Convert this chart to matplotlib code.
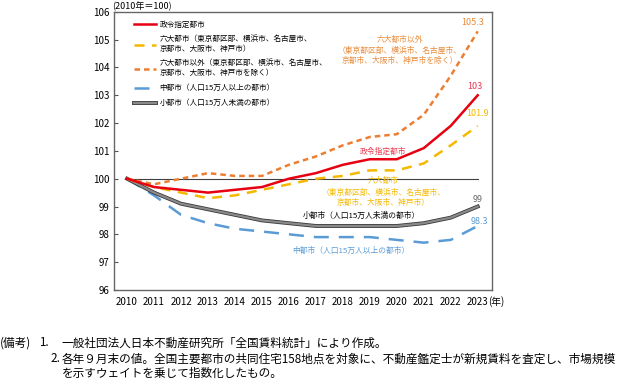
import matplotlib
matplotlib.use("Agg")
import matplotlib.pyplot as plt
import matplotlib.patheffects as pe

plt.rcParams['font.family'] = ['Noto Sans CJK JP', 'DejaVu Sans']

years = list(range(2010, 2024))
seirei = [100, 99.7, 99.6, 99.5, 99.6, 99.7, 100.0, 100.2, 100.5, 100.7, 100.7, 101.1, 101.9, 103.0]
rokudai = [100, 99.7, 99.5, 99.3, 99.4, 99.6, 99.8, 100.0, 100.1, 100.3, 100.3, 100.55, 101.2, 101.9]
rokudai_igai = [100, 99.8, 100.0, 100.2, 100.1, 100.1, 100.5, 100.8, 101.2, 101.5, 101.6, 102.3, 103.7, 105.3]
chu = [100, 99.4, 98.7, 98.4, 98.2, 98.1, 98.0, 97.9, 97.9, 97.9, 97.8, 97.7, 97.8, 98.3]
sho = [100, 99.5, 99.1, 98.9, 98.7, 98.5, 98.4, 98.3, 98.3, 98.3, 98.3, 98.4, 98.6, 99.0]

labels = ['政令指定都市',
          '六大都市（東京都区部、横浜市、名古屋市、\n京都市、大阪市、神戸市）',
          '六大都市以外（東京都区部、横浜市、名古屋市、\n京都市、大阪市、神戸市を除く）',
          '中都市（人口15万人以上の都市）',
          '小都市（人口15万人未満の都市）']

red = '#e60012'
yellow = '#f5b800'
orange = '#ed7d31'
blue = '#5b9bd5'

fig = plt.figure(figsize=(6.17, 3.82), dpi=100)
ax = fig.add_axes([0.185, 0.241, 0.612, 0.728])

ax.plot(years, [100] * len(years), color='#404040', lw=0.8, zorder=1)
l1, = ax.plot(years, seirei, color=red, lw=1.8, label=labels[0], zorder=5)
l2, = ax.plot(years, rokudai, color=yellow, lw=1.8, dashes=(4, 3), label=labels[1], zorder=4)
l3, = ax.plot(years, rokudai_igai, color=orange, lw=1.8, dashes=(2.2, 1.6), label=labels[2], zorder=4)
l4, = ax.plot(years, chu, color=blue, lw=1.8, dashes=(6, 4), label=labels[3], zorder=3)
l5, = ax.plot(years, sho, color='#8a8a8a', lw=1.6, label=labels[4], zorder=3,
              path_effects=[pe.Stroke(linewidth=2.8, foreground='#3a3a3a'), pe.Normal()])

ax.set_xlim(2009.52, 2023.52)
ax.set_ylim(96, 106)
ax.set_xticks(years)
ax.set_yticks(range(96, 107))
ax.tick_params(axis='x', length=0, labelsize=7, pad=5)
ax.tick_params(axis='y', direction='in', length=3, labelsize=7, color='#555555')
for s in ax.spines.values():
    s.set_color('#666666')
    s.set_linewidth(1.0)

leg = ax.legend(handles=[l1, l2, l3, l4, l5], loc='upper left', bbox_to_anchor=(0.035, 0.993),
                frameon=False, fontsize=5.5, handlelength=2.9, handletextpad=0.4,
                labelspacing=0.92)

fs = 5.6
ax.text(2022.8, 105.45, '105.3', color='#e98b3a', fontsize=6.5, ha='center', va='bottom')
ax.text(2020.1, 105.15, '六大都市以外\n（東京都区部、横浜市、名古屋市、\n京都市、大阪市、神戸市を除く）',
        color='#e98b3a', fontsize=fs, ha='center', va='top', linespacing=1.45)
ax.text(2022.9, 103.15, '103', color='#e8384f', fontsize=6.5, ha='center', va='bottom')
ax.text(2023.0, 102.2, '101.9', color=yellow, fontsize=6.5, ha='center', va='bottom')
ax.text(2019.5, 100.82, '政令指定都市', color='#e8384f', fontsize=fs, ha='center', va='bottom')
ax.text(2019.5, 100.05, '六大都市\n（東京都区部、横浜市、名古屋市、\n京都市、大阪市、神戸市）',
        color=yellow, fontsize=fs, ha='center', va='top', linespacing=1.45)
ax.text(2023.0, 99.1, '99', color='#6b6b6b', fontsize=6.5, ha='center', va='bottom')
ax.text(2023.05, 98.3, '98.3', color=blue, fontsize=6.5, ha='center', va='bottom')
ax.text(2018.7, 98.66, '小都市（人口15万人未満の都市）', color='black', fontsize=fs, ha='center', va='center')
ax.text(2018.3, 97.4, '中都市（人口15万人以上の都市）', color=blue, fontsize=fs, ha='center', va='center')

fig.text(112 / 617, 1 - 6 / 382, '(2010年＝100)', fontsize=6.5, ha='left', va='center')
fig.text(488 / 617, 1 - 302 / 382, '(年)', fontsize=7, ha='left', va='center')

fn = 8.4
fig.text(0.0, 1 - 343 / 382, '(備考)', fontsize=fn, ha='left', va='center')
fig.text(39 / 617, 1 - 343 / 382, '1.', fontsize=fn, ha='left', va='center')
fig.text(62 / 617, 1 - 343 / 382, '一般社団法人日本不動産研究所「全国賃料統計」により作成。',
         fontsize=fn, ha='left', va='center')
fig.text(50 / 617, 1 - 359 / 382, '2.', fontsize=fn, ha='left', va='center')
fig.text(62 / 617, 1 - 359 / 382,
         '各年９月末の値。全国主要都市の共同住宅158地点を対象に、不動産鑑定士が新規賃料を査定し、市場規模',
         fontsize=fn, ha='left', va='center')
fig.text(62 / 617, 1 - 373 / 382, 'を示すウェイトを乗じて指数化したもの。',
         fontsize=fn, ha='left', va='center')

fig.savefig('out.png', dpi=100)
